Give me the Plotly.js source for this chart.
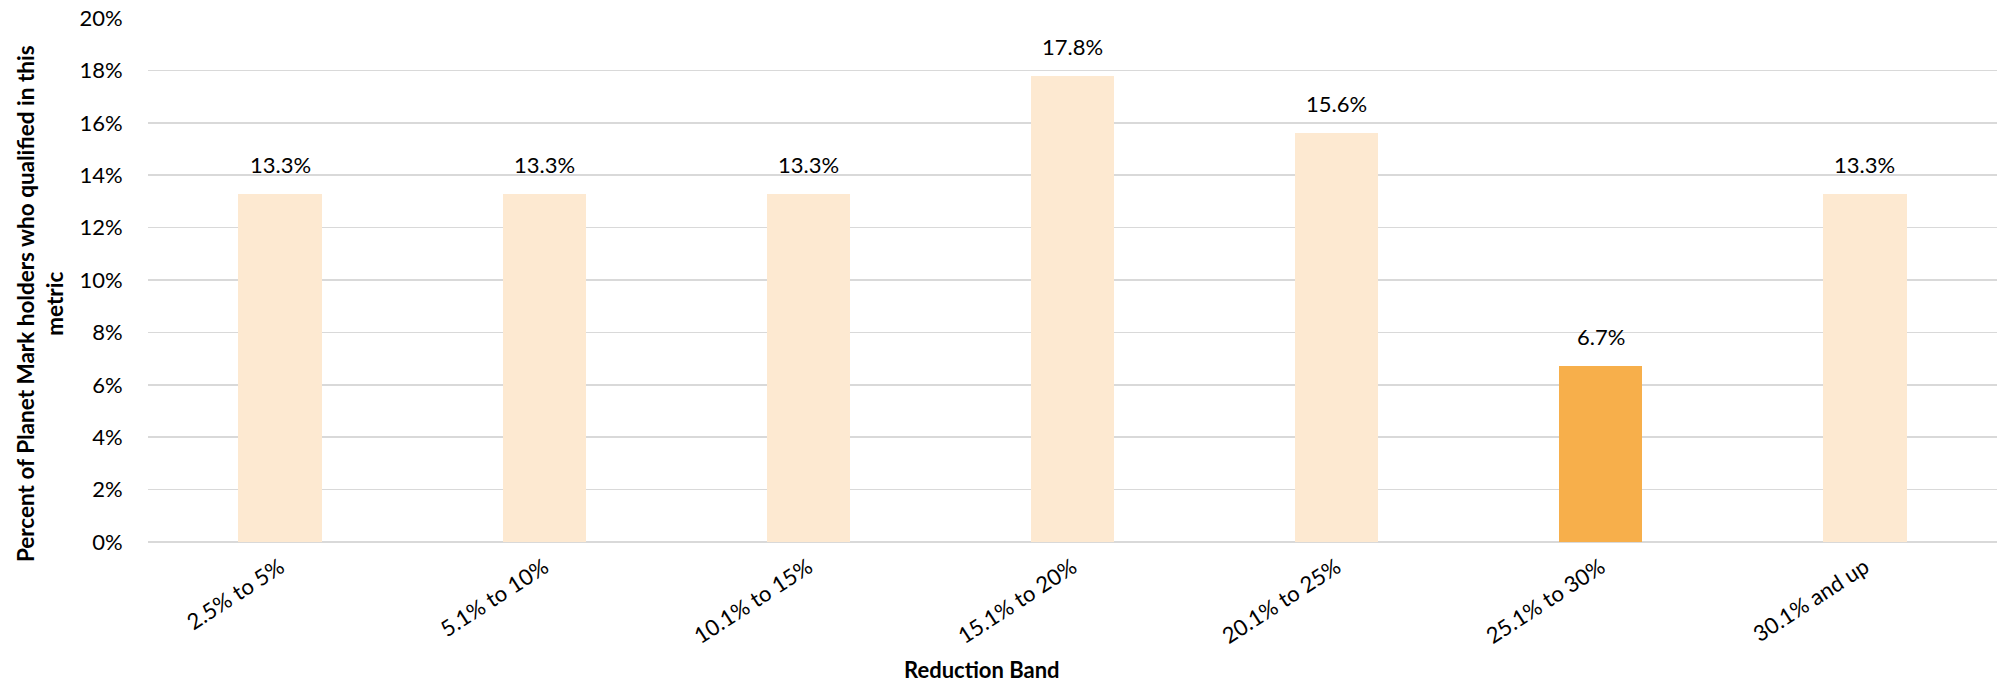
<!DOCTYPE html>
<html>
<head>
<meta charset="utf-8">
<script src="https://cdn.plot.ly/plotly-3.0.1.min.js"></script>
<style>html,body{margin:0;padding:0;background:#fff;}#chart{width:2003px;height:684px;}</style>
</head>
<body>
<div id="chart"></div>
<script>
const categories = ["2.5% to 5%", "5.1% to 10%", "10.1% to 15%", "15.1% to 20%", "20.1% to 25%", "25.1% to 30%", "30.1% and up"];
const values = [13.3, 13.3, 13.3, 17.8, 15.6, 6.7, 13.3];
const barColors = ["#FDE9D1", "#FDE9D1", "#FDE9D1", "#FDE9D1", "#FDE9D1", "#F7AF4B", "#FDE9D1"];
const yTickVals = [0, 2, 4, 6, 8, 10, 12, 14, 16, 18, 20];
const yTickText = ["0%", "2%", "4%", "6%", "8%", "10%", "12%", "14%", "16%", "18%", "20%"];
const labels = values.map(v => v.toFixed(1) + "%");
const xTitle = "Reduction Band";
const yTitle = "Percent of Planet Mark holders who qualified in this<br>metric";

const FONT = "Lato, 'Open Sans', sans-serif";
const trace = {
  type: "bar",
  x: categories,
  y: values,
  marker: {color: barColors, line: {width: 0}},
  width: 0.315,
  hoverinfo: "none"
};
const annotations = categories.map((c, i) => ({
  x: c, y: values[i], xref: "x", yref: "y",
  text: labels[i], showarrow: false,
  yanchor: "bottom", yshift: 14,
  font: {family: FONT, size: 22, color: "#000"}
}));
annotations.push({
  xref: "paper", yref: "paper", x: 0.451, y: -0.243,
  xanchor: "center", yanchor: "middle", showarrow: false,
  text: "<b>" + xTitle + "</b>",
  font: {family: FONT, size: 22, color: "#000"}
});
annotations.push({
  xref: "paper", yref: "paper", x: -0.0584, y: 0.454,
  xanchor: "center", yanchor: "middle", showarrow: false,
  textangle: -90,
  text: "<b>" + yTitle + "</b>",
  font: {family: FONT, size: 22.5, color: "#000"}
});
const layout = {
  width: 2003, height: 684,
  margin: {l: 148, r: 6, t: 18, b: 142},
  paper_bgcolor: "#fff", plot_bgcolor: "#fff",
  showlegend: false,
  font: {family: FONT, size: 22, color: "#000"},
  bargap: 0,
  xaxis: {
    type: "category",
    tickangle: -33,
    tickfont: {family: FONT, size: 22, color: "#000"},
    showgrid: false, zeroline: false, showline: false,
    ticks: "outside", ticklen: 3, tickcolor: "rgba(0,0,0,0)"
  },
  yaxis: {
    range: [0, 20],
    tickvals: yTickVals, ticktext: yTickText,
    tickfont: {family: FONT, size: 22, color: "#000"},
    showgrid: true, gridcolor: "#D9D9D9", gridwidth: 1.5,
    zeroline: true, zerolinecolor: "#D9D9D9", zerolinewidth: 1.5,
    showline: false,
    ticks: "outside", ticklen: 20, tickcolor: "rgba(0,0,0,0)"
  },
  annotations: annotations
};
Plotly.newPlot("chart", [trace], layout, {displayModeBar: false, staticPlot: true});
</script>
</body>
</html>
